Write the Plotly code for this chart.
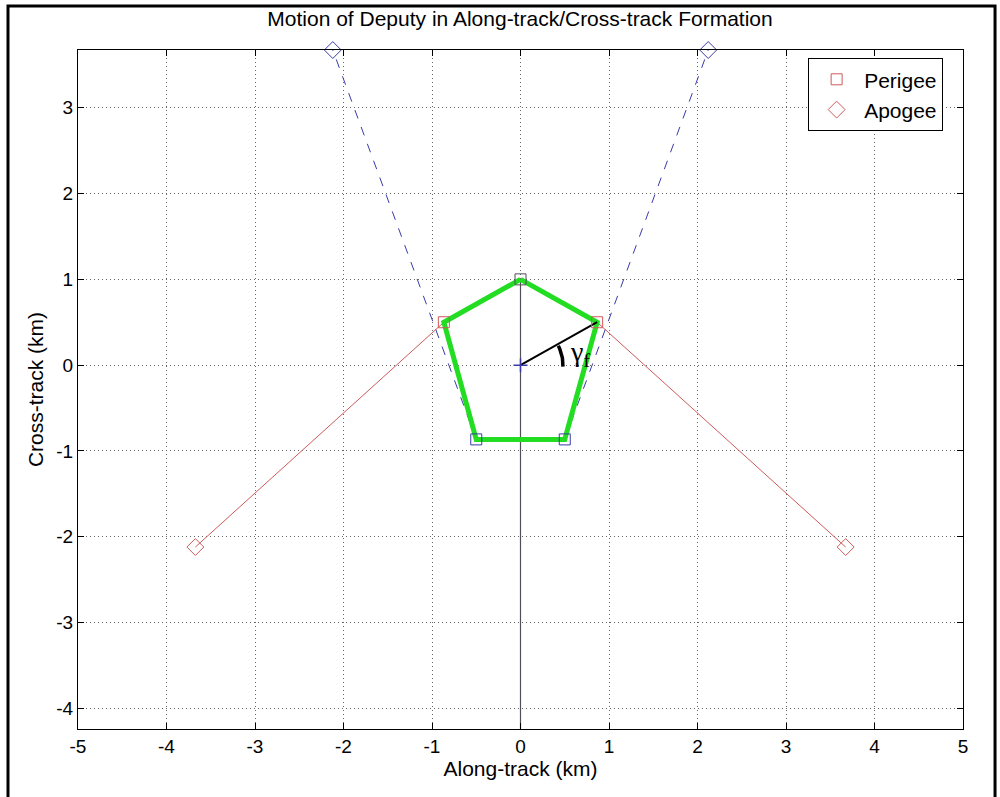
import numpy as np
import plotly.graph_objects as go

# perigee / apogee pairs for each deputy
perigee_x = [0.0, 0.866, -0.866, 0.5, -0.5]
perigee_y = [1.0, 0.5, 0.5, -0.866, -0.866]
apogee_x = [0.0, 3.674, -3.674, 2.121, -2.121]
apogee_y = [-4.243, -2.121, -2.121, 3.674, 3.674]
pair_color = ["#505058", "#d05a5a", "#d05a5a", "#3a3aa8", "#3a3aa8"]
pair_dash = ["solid", "solid", "solid", "dash", "dash"]
pair_width = [1.2, 1, 1, 1, 1]

# formation polygon (perigee ring)
ring_x = [0.0, 0.866, 0.5, -0.5, -0.866, 0.0]
ring_y = [1.0, 0.5, -0.866, -0.866, 0.5, 1.0]

# angle gamma_f marker
gamma_deg = 30
arc_radius = 0.48
arc_from, arc_to = -2, 27

x_ticks = [-5, -4, -3, -2, -1, 0, 1, 2, 3, 4, 5]
y_ticks = [-4, -3, -2, -1, 0, 1, 2, 3]

FONT = "Liberation Sans, Arial, sans-serif"
FS = 19
FT = 21

fig = go.Figure()

for i in range(5):
    fig.add_trace(go.Scatter(x=[perigee_x[i], apogee_x[i]], y=[perigee_y[i], apogee_y[i]],
                             mode="lines", showlegend=False,
                             line=dict(color=pair_color[i], width=pair_width[i], dash=pair_dash[i])))

fig.add_trace(go.Scatter(x=ring_x, y=ring_y, mode="lines", showlegend=False,
                         line=dict(color="#22dd22", width=5)))

# gamma_f line and arc
gx = np.cos(np.radians(gamma_deg))
gy = np.sin(np.radians(gamma_deg))
fig.add_trace(go.Scatter(x=[0, gx], y=[0, gy], mode="lines", showlegend=False,
                         line=dict(color="black", width=2)))
t = np.radians(np.linspace(arc_from, arc_to, 20))
fig.add_trace(go.Scatter(x=arc_radius * np.cos(t), y=arc_radius * np.sin(t) * 1.03,
                         mode="lines", showlegend=False, line=dict(color="black", width=3.5)))
fig.add_trace(go.Scatter(x=[0], y=[0], mode="markers", showlegend=False,
                         marker=dict(symbol="cross-thin", size=10, line=dict(color="#3a3aa8", width=1.5))))

# markers
for i in range(5):
    fig.add_trace(go.Scatter(x=[perigee_x[i]], y=[perigee_y[i]], mode="markers", showlegend=False,
                             marker=dict(symbol="square-open", size=11, color=pair_color[i], line=dict(width=1))))
    fig.add_trace(go.Scatter(x=[apogee_x[i]], y=[apogee_y[i]], mode="markers", showlegend=False,
                             marker=dict(symbol="diamond-open", size=13, color=pair_color[i], line=dict(width=1)),
                             cliponaxis=False))

# legend entries
fig.add_trace(go.Scatter(x=[None], y=[None], mode="markers", name="Perigee",
                         marker=dict(symbol="square-open", size=11, color="#d05a5a")))
fig.add_trace(go.Scatter(x=[None], y=[None], mode="markers", name="Apogee",
                         marker=dict(symbol="diamond-open", size=13, color="#d05a5a")))

fig.add_annotation(x=0.54, y=0.14, xref="x", yref="y", text="γ<sub>f</sub>", showarrow=False,
                   xanchor="left", font=dict(family="Liberation Serif, Times New Roman, serif", size=28, color="black"))

# outer figure frame
fig.add_shape(type="rect", xref="paper", yref="paper", x0=-0.0791, x1=1.0362, y0=-0.11, y1=1.0648,
              line=dict(color="black", width=3), layer="above")

axis_common = dict(showgrid=True, gridcolor="#666666", griddash="1px,3px", gridwidth=1,
                   zeroline=False, showline=True, linecolor="black", linewidth=1, mirror="ticks",
                   ticks="inside", ticklen=6, tickcolor="black", automargin=False,
                   tickfont=dict(family=FONT, size=FS, color="black"))

fig.update_xaxes(range=[-5, 5], tickvals=x_ticks, ticktext=[str(v) for v in x_ticks],
                 title=dict(text="Along-track (km)", standoff=3, font=dict(family=FONT, size=FT, color="black")),
                 **axis_common)
fig.update_yaxes(range=[-4.2426, 3.6742], tickvals=y_ticks, ticktext=[str(v) for v in y_ticks],
                 title=dict(text="Cross-track (km)", standoff=6, font=dict(family=FONT, size=FT, color="black")),
                 **axis_common)

fig.update_layout(
    width=1000, height=797,
    margin=dict(l=78, r=37, t=50, b=68),
    paper_bgcolor="white", plot_bgcolor="white",
    title=dict(text="Motion of Deputy in Along-track/Cross-track Formation", x=0.52, xanchor="center",
               y=0.977, yanchor="middle", font=dict(family=FONT, size=FT, color="black")),
    legend=dict(x=0.825, y=0.988, xanchor="left", yanchor="top", bgcolor="white",
                bordercolor="black", borderwidth=1, font=dict(family=FONT, size=FT, color="black"),
                tracegroupgap=0, itemwidth=45),
    showlegend=True,
)

fig.write_html("out.html", config={"displayModeBar": False},
               post_script="document.body.style.margin='0';")
